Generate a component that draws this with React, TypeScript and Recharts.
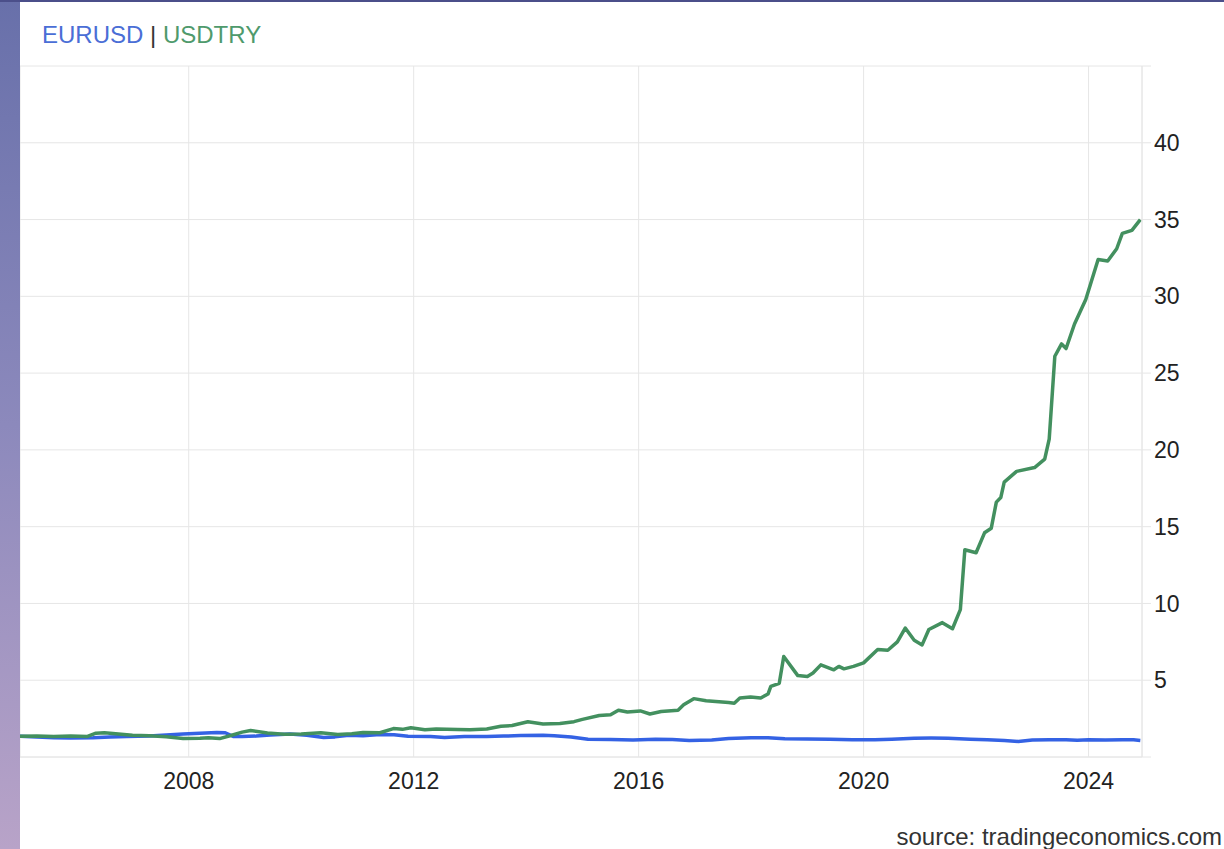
import React from "react";
import { LineChart, Line, XAxis, YAxis, CartesianGrid } from "recharts";

const usdtryDates = [
  2005.0, 2005.3, 2005.6, 2005.9, 2006.2, 2006.35, 2006.5, 2006.8, 2007.0, 2007.3,
  2007.6, 2007.9, 2008.2, 2008.35, 2008.55, 2008.75, 2008.95, 2009.1, 2009.4, 2009.7,
  2010.0, 2010.35, 2010.65, 2010.9, 2011.1, 2011.4, 2011.64, 2011.8, 2011.95, 2012.2,
  2012.4, 2012.78, 2013.0, 2013.3, 2013.55, 2013.75, 2014.03, 2014.3, 2014.6, 2014.85,
  2015.0, 2015.3, 2015.5, 2015.64, 2015.8, 2016.03, 2016.2, 2016.4, 2016.7, 2016.8,
  2016.98, 2017.2, 2017.6, 2017.7, 2017.8, 2017.99, 2018.17, 2018.3, 2018.35, 2018.5,
  2018.58, 2018.83, 2019.0, 2019.1, 2019.24, 2019.47, 2019.56, 2019.65, 2019.82, 2020.0,
  2020.25, 2020.43, 2020.6, 2020.74, 2020.9, 2021.04, 2021.16, 2021.4, 2021.58, 2021.72,
  2021.8, 2022.0, 2022.15, 2022.27, 2022.36, 2022.44, 2022.5, 2022.72, 2023.04, 2023.22,
  2023.3, 2023.4, 2023.52, 2023.6, 2023.75, 2023.95, 2024.17, 2024.34, 2024.5, 2024.6,
  2024.77, 2024.92,
];
const usdtryValues = [
  1.35, 1.36, 1.34, 1.36, 1.34, 1.55, 1.58, 1.48, 1.42, 1.38,
  1.32, 1.2, 1.22, 1.25, 1.2, 1.4, 1.62, 1.72, 1.57, 1.48,
  1.5, 1.58, 1.46, 1.52, 1.6, 1.58, 1.85, 1.8, 1.9, 1.78,
  1.82, 1.79, 1.78, 1.82, 2.0, 2.05, 2.3, 2.15, 2.18, 2.3,
  2.45, 2.7, 2.75, 3.05, 2.93, 3.0, 2.8, 2.96, 3.05, 3.4,
  3.8, 3.66, 3.55, 3.5, 3.84, 3.9, 3.84, 4.1, 4.6, 4.8,
  6.55, 5.3, 5.25, 5.47, 6.0, 5.68, 5.9, 5.74, 5.9, 6.13,
  7.0, 6.95, 7.5, 8.4, 7.6, 7.3, 8.3, 8.75, 8.35, 9.6,
  13.5, 13.3, 14.6, 14.9, 16.6, 16.9, 17.9, 18.6, 18.85, 19.4,
  20.7, 26.1, 26.9, 26.6, 28.2, 29.8, 32.4, 32.3, 33.1, 34.1,
  34.3, 35.0,
];

const eurusdDates = [
  2005.0, 2005.3, 2005.6, 2005.9, 2006.3, 2006.6, 2006.9, 2007.3, 2007.6, 2007.9,
  2008.2, 2008.5, 2008.65, 2008.8, 2008.95, 2009.2, 2009.45, 2009.8, 2010.1, 2010.4,
  2010.6, 2010.85, 2011.1, 2011.4, 2011.65, 2011.9, 2012.3, 2012.55, 2012.9, 2013.3,
  2013.6, 2013.9, 2014.3, 2014.5, 2014.8, 2015.1, 2015.5, 2015.9, 2016.3, 2016.6,
  2016.9, 2017.3, 2017.6, 2018.0, 2018.3, 2018.6, 2019.0, 2019.4, 2019.8, 2020.2,
  2020.5, 2020.9, 2021.2, 2021.5, 2021.9, 2022.2, 2022.5, 2022.75, 2023.0, 2023.3,
  2023.6, 2023.8, 2024.0, 2024.3, 2024.6, 2024.8, 2024.92,
];
const eurusdValues = [
  1.35, 1.3, 1.25, 1.23, 1.25, 1.3, 1.33, 1.37, 1.43, 1.49,
  1.55, 1.6, 1.58, 1.33, 1.33, 1.36, 1.44, 1.5, 1.42, 1.27,
  1.31, 1.41, 1.39, 1.47, 1.45, 1.35, 1.33, 1.27, 1.33, 1.33,
  1.36, 1.4, 1.41, 1.39, 1.3, 1.15, 1.14, 1.11, 1.16, 1.14,
  1.08, 1.11, 1.21, 1.25, 1.26, 1.19, 1.17, 1.15, 1.13, 1.12,
  1.16, 1.22, 1.23, 1.22, 1.16, 1.13, 1.07, 1.01, 1.1, 1.12,
  1.12, 1.09, 1.12, 1.11, 1.13, 1.12, 1.08,
];

const xTicks = [2008, 2012, 2016, 2020, 2024];
const yTicks = [0, 5, 10, 15, 20, 25, 30, 35, 40, 45];
const yLabels = ["", "5", "10", "15", "20", "25", "30", "35", "40", ""];

const usdtryData = usdtryDates.map((t, i) => ({ t, v: usdtryValues[i] }));
const eurusdData = eurusdDates.map((t, i) => ({ t, v: eurusdValues[i] }));

const FONT = '"Liberation Sans", Arial, Helvetica, sans-serif';
const GRID = "#e6e6e6";

export default function App() {
  return (
    <div
      style={{
        position: "absolute",
        left: 0,
        top: 0,
        width: 1224,
        height: 849,
        overflow: "hidden",
        background: "linear-gradient(180deg, #6870aa 0%, #8c89bc 50%, #b8a3c8 100%)",
        fontFamily: FONT,
      }}
    >
      <div style={{ position: "absolute", left: 0, top: 0, width: 1224, height: 2, background: "#4b4f8a" }} />
      <div
        style={{
          position: "absolute",
          left: 20,
          top: 2,
          width: 1204,
          height: 847,
          background: "#ffffff",
        }}
      />
      <div
        style={{
          position: "absolute",
          left: 42,
          top: 21,
          fontSize: 24,
          lineHeight: "normal",
          whiteSpace: "nowrap",
        }}
      >
        <span style={{ color: "#4a6ed6" }}>EURUSD</span>
        <span style={{ color: "#333333" }}> | </span>
        <span style={{ color: "#4f9a6c" }}>USDTRY</span>
      </div>
      <div style={{ position: "absolute", left: 20, top: 0 }}>
        <LineChart width={1204} height={800} margin={{ top: 66, right: 0, left: 0, bottom: 0 }}>
          <CartesianGrid stroke={GRID} strokeWidth={1} vertical={true} horizontal={true} />
          <XAxis
            type="number"
            dataKey="t"
            domain={[2005, 2024.95]}
            allowDataOverflow={true}
            ticks={xTicks}
            tickLine={false}
            tickSize={0}
            tickMargin={16}
            axisLine={{ stroke: GRID }}
            height={43}
            tick={{ fontSize: 23, fill: "#222222", fontFamily: FONT }}
          />
          <YAxis
            type="number"
            orientation="right"
            domain={[0, 45]}
            ticks={yTicks}
            tickFormatter={(v: number) => yLabels[yTicks.indexOf(v)]}
            tickLine={{ stroke: GRID }}
            tickSize={9}
            tickMargin={3}
            axisLine={{ stroke: GRID }}
            width={82}
            tick={{ fontSize: 23, fill: "#222222", fontFamily: FONT }}
          />
          <Line
            data={eurusdData}
            dataKey="v"
            type="linear"
            stroke="#3462e4"
            strokeWidth={3.5}
            strokeLinejoin="round"
            dot={false}
            isAnimationActive={false}
          />
          <Line
            data={usdtryData}
            dataKey="v"
            type="linear"
            stroke="#43905f"
            strokeWidth={3.5}
            strokeLinejoin="round"
            dot={false}
            isAnimationActive={false}
          />
        </LineChart>
      </div>
      <div
        style={{
          position: "absolute",
          left: 600,
          width: 622,
          top: 823,
          fontSize: 24,
          lineHeight: "normal",
          textAlign: "right",
          color: "#333333",
          whiteSpace: "nowrap",
        }}
      >
        source: tradingeconomics.com
      </div>
    </div>
  );
}
